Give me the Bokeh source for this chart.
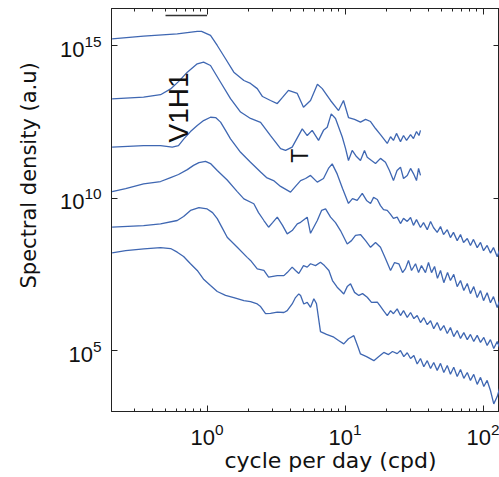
import numpy as np
from bokeh.plotting import figure
from bokeh.models import FixedTicker, LogAxis, Label, Range1d, Title
from bokeh.embed import file_html
from bokeh.resources import INLINE

# ---- data: log10(frequency, cpd) and log10(spectral density, a.u.) per spectrum ----
c1_logf = [-0.688,-0.46,-0.216,-0.071,-0.04,0.025,0.074,0.134,0.194,0.267,0.315,0.364,0.402,0.46,0.509,0.547,0.59,0.654,0.699,0.75,0.80,0.835,0.895,0.953,0.989,1.025,1.069,1.112,1.149,1.185,1.221,1.257,1.306,1.33,1.351,1.373,1.402,1.424,1.446,1.475,1.496,1.518,1.536,1.547]
c1_logs = [15.236,15.32,15.40,15.476,15.476,15.345,15.016,14.58,14.14,13.867,13.77,13.60,13.34,13.21,13.11,13.31,13.54,13.44,12.99,13.21,13.74,13.60,13.21,12.88,13.21,12.65,12.59,12.50,12.59,12.52,12.29,12.09,11.80,12.02,11.90,12.13,11.86,12.06,11.90,12.09,11.96,12.19,12.06,12.23]

c2_logf = [-0.688,-0.46,-0.337,-0.264,-0.207,-0.143,-0.071,-0.025,0.025,0.098,0.17,0.243,0.315,0.388,0.46,0.533,0.569,0.617,0.656,0.69,0.726,0.762,0.808,0.844,0.871,0.90,0.931,0.98,1.004,1.025,1.052,1.083,1.112,1.141,1.161,1.192,1.221,1.257,1.293,1.322,1.351,1.377,1.402,1.424,1.451,1.475,1.496,1.518,1.533,1.547]
c2_logs = [13.266,13.32,13.40,13.59,13.83,14.14,14.415,14.47,14.36,13.81,13.27,12.83,12.62,12.49,12.06,11.63,11.57,11.68,12.0,12.28,12.06,12.23,11.90,12.23,12.33,12.77,12.62,12.01,11.63,11.24,11.57,11.37,11.24,11.57,11.35,11.24,11.14,11.31,11.18,10.91,10.58,10.91,11.02,10.65,10.75,10.98,10.81,10.58,10.98,10.75]

c3_logf = [-0.688,-0.46,-0.337,-0.252,-0.207,-0.168,-0.12,-0.071,-0.025,0.025,0.062,0.098,0.134,0.17,0.243,0.315,0.388,0.431,0.482,0.533,0.605,0.641,0.678,0.714,0.75,0.799,0.844,0.88,0.907,0.943,0.982,1.025,1.054,1.088,1.125,1.156,1.185,1.207,1.234,1.257,1.279,1.306,1.33,1.351,1.378,1.402,1.424,1.451,1.475,1.496,1.518,1.547,1.569,1.596,1.62,1.641,1.668,1.692,1.714,1.741,1.764,1.786,1.813,1.837,1.859,1.886,1.909,1.931,1.958,1.982,2.004,2.03,2.054,2.076,2.103,2.12]
c3_logs = [11.677,11.73,11.73,11.68,11.73,11.95,12.19,12.39,12.55,12.66,12.65,12.50,12.23,11.95,11.51,11.18,10.86,10.68,10.58,10.39,10.20,10.39,10.58,10.65,10.75,10.53,10.65,10.98,11.13,10.80,10.32,9.83,9.99,9.93,10.16,9.93,9.83,10.03,9.96,9.76,9.63,9.60,9.47,9.34,9.38,9.17,9.34,9.24,9.37,9.11,9.30,9.04,9.20,8.97,9.24,9.04,8.88,9.07,8.81,8.97,8.71,8.88,8.61,8.81,8.55,8.68,8.45,8.65,8.38,8.55,8.28,8.45,8.20,8.38,8.08,8.30]

c4_logf = [-0.688,-0.59,-0.46,-0.337,-0.264,-0.207,-0.143,-0.098,-0.059,-0.011,0.025,0.074,0.146,0.219,0.267,0.339,0.373,0.412,0.446,0.475,0.509,0.547,0.581,0.617,0.654,0.678,0.726,0.75,0.799,0.83,0.859,0.895,0.931,0.967,1.016,1.047,1.076,1.112,1.149,1.185,1.221,1.257,1.293,1.33,1.359,1.39,1.417,1.438,1.46,1.482,1.511,1.533,1.554,1.583,1.605,1.627,1.649,1.67,1.692,1.716,1.743,1.764,1.788,1.813,1.837,1.861,1.886,1.909,1.933,1.958,1.982,2.004,2.03,2.054,2.076,2.103,2.12]
c4_logs = [10.22,10.32,10.47,10.55,10.68,10.78,10.94,11.08,11.17,11.21,11.14,10.91,10.60,10.22,9.98,9.82,9.53,9.27,9.05,9.20,9.38,9.11,8.83,8.94,9.16,9.21,9.38,8.85,9.27,9.60,9.65,9.38,9.20,8.94,8.50,8.61,8.78,8.81,8.61,8.39,8.55,8.39,8.02,7.63,7.89,7.85,7.56,7.69,7.96,7.63,7.85,7.56,7.79,7.56,7.89,7.56,7.76,7.37,7.63,7.23,7.56,7.30,7.50,7.10,7.30,6.97,7.20,6.87,7.10,6.74,6.97,6.64,6.90,6.57,6.77,6.41,6.64]

c5_logf = [-0.688,-0.46,-0.337,-0.216,-0.17,-0.12,-0.059,0.001,0.04,0.074,0.105,0.146,0.219,0.291,0.315,0.364,0.412,0.446,0.509,0.557,0.581,0.617,0.641,0.665,0.699,0.726,0.75,0.786,0.822,0.851,0.883,0.909,0.943,0.967,0.991,1.016,1.04,1.069,1.10,1.127,1.161,1.192,1.234,1.257,1.279,1.306,1.33,1.351,1.378,1.402,1.424,1.451,1.475,1.499,1.523,1.547,1.571,1.596,1.62,1.643,1.668,1.692,1.716,1.741,1.764,1.788,1.813,1.837,1.861,1.886,1.909,1.933,1.958,1.982,2.006,2.03,2.054,2.078,2.103,2.12]
c5_logs = [9.05,9.105,9.16,9.27,9.40,9.60,9.69,9.65,9.53,9.33,9.07,8.72,8.39,8.06,7.96,7.68,7.63,7.41,7.46,7.46,7.56,7.74,7.63,7.53,7.79,7.74,7.85,7.79,7.90,7.79,7.63,7.30,7.08,6.97,6.86,7.10,7.19,6.91,6.81,6.87,6.75,6.58,6.59,6.45,6.31,6.15,6.31,6.21,6.37,6.15,6.31,6.09,6.25,6.05,6.15,5.92,6.08,5.85,5.98,5.72,5.92,5.66,5.82,5.56,5.76,5.46,5.66,5.40,5.59,5.36,5.53,5.30,5.50,5.27,5.43,5.17,5.36,5.07,5.30,5.10]

c6_logf = [-0.688,-0.59,-0.458,-0.337,-0.264,-0.216,-0.17,-0.12,-0.071,-0.023,0.025,0.074,0.134,0.194,0.267,0.315,0.364,0.388,0.424,0.46,0.509,0.557,0.581,0.617,0.641,0.665,0.678,0.701,0.726,0.75,0.774,0.793,0.822,0.866,0.919,0.953,0.991,1.025,1.064,1.091,1.112,1.156,1.209,1.243,1.281,1.315,1.344,1.378,1.402,1.426,1.451,1.475,1.499,1.523,1.547,1.571,1.596,1.62,1.643,1.668,1.692,1.716,1.741,1.764,1.788,1.813,1.837,1.861,1.886,1.909,1.933,1.958,1.982,2.006,2.03,2.054,2.078,2.103,2.12]
c6_logs = [8.21,8.28,8.34,8.38,8.35,8.23,8.09,7.85,7.63,7.33,7.135,6.94,6.81,6.74,6.64,6.61,6.53,6.445,6.21,6.22,6.26,6.25,6.31,6.53,6.74,6.86,6.81,6.53,6.58,6.42,6.70,6.54,5.62,5.53,5.44,5.33,5.22,5.39,5.49,5.16,4.89,4.80,4.67,4.80,4.94,4.87,4.97,4.90,5.00,4.80,4.93,4.74,4.84,4.56,4.74,4.47,4.67,4.41,4.61,4.35,4.58,4.28,4.51,4.22,4.45,4.15,4.38,4.09,4.28,4.02,4.22,3.89,4.12,3.82,4.02,3.69,3.25,3.49,3.76]

# scale bar drawn at the top (cpd, a.u.)
bar_f = [0.5, 1.0]
bar_s = [1e16, 1e16]

# axis ticks
x_major = [1, 10, 100]
x_minor = [0.2, 0.3, 0.4, 0.5, 0.6, 0.7, 0.8, 0.9,
           2, 3, 4, 5, 6, 7, 8, 9,
           20, 30, 40, 50, 60, 70, 80, 90]
y_major = [1e5, 1e10, 1e15]

x_title = "cycle per day (cpd)"
y_title = "Spectral density (a.u)"
curve_tag = "V1H1"
marker_tag = "T"

LINE = "#3f67b2"
AX = "#222222"

p = figure(width=499, height=477, x_axis_type="log", y_axis_type="log",
           x_range=Range1d(0.203, 131.7), y_range=Range1d(1e3, 10 ** 16.23),
           output_backend="svg", toolbar_location=None,
           min_border_left=111, min_border_right=0, min_border_top=8,
           min_border_bottom=66)
p.background_fill_color = "white"
p.border_fill_color = "white"
p.outline_line_color = AX
p.outline_line_width = 1
p.grid.visible = False

curves = [(c1_logf, c1_logs), (c2_logf, c2_logs), (c3_logf, c3_logs),
          (c4_logf, c4_logs), (c5_logf, c5_logs), (c6_logf, c6_logs)]
for lf, ls in curves:
    n = min(len(lf), len(ls))
    f = 10 ** np.array(lf[:n])
    s = 10 ** np.array(ls[:n])
    p.line(f, s, line_color=LINE, line_width=1.3)

p.line(bar_f, bar_s, line_color="#333333", line_width=1.5)


def style_axis(ax, labels=True):
    ax.axis_line_color = AX
    ax.major_tick_line_color = AX
    ax.minor_tick_line_color = AX
    ax.major_tick_in = 6
    ax.major_tick_out = 0
    ax.minor_tick_in = 3
    ax.minor_tick_out = 0
    if labels:
        ax.major_label_text_font = "Liberation Sans"
        ax.major_label_text_font_size = "22px"
        ax.major_label_text_color = "#111111"
    else:
        ax.major_label_text_font_size = "2px"
        ax.major_label_text_alpha = 0.0
        ax.major_label_standoff = 0


xt = FixedTicker(ticks=x_major, minor_ticks=x_minor)
yt = FixedTicker(ticks=y_major, minor_ticks=[])

p.xaxis.ticker = xt
p.yaxis.ticker = yt
style_axis(p.xaxis[0])
style_axis(p.yaxis[0])
p.xaxis.major_label_standoff = 11
p.yaxis.major_label_standoff = 10

top = LogAxis(ticker=FixedTicker(ticks=x_major, minor_ticks=x_minor))
style_axis(top, labels=False)
p.add_layout(top, "above")
right = LogAxis(ticker=FixedTicker(ticks=y_major, minor_ticks=[]))
style_axis(right, labels=False)
p.add_layout(right, "right")

xt_title = Title(text=x_title, align="left", offset=113, standoff=0,
                 vertical_align="top",
                 text_font="DejaVu Sans", text_font_size="22px",
                 text_font_style="normal", text_color="#111111")
p.add_layout(xt_title, "below")
yt_title = Title(text=y_title, align="left", offset=123, standoff=30,
                 vertical_align="middle",
                 text_font="DejaVu Sans", text_font_size="21px",
                 text_font_style="normal", text_color="#111111")
p.add_layout(yt_title, "left")

p.add_layout(Label(x=0.621, y=10 ** 12.98, text=curve_tag, angle=np.pi / 2,
                   text_font="Liberation Sans", text_font_size="28px",
                   text_color="#111111", text_align="center",
                   text_baseline="middle"))
p.add_layout(Label(x=4.68, y=10 ** 11.40, text=marker_tag, angle=np.pi / 2,
                   text_font="Liberation Sans", text_font_size="23px",
                   text_color="#111111", text_align="center",
                   text_baseline="middle"))

open("out.html", "w").write(file_html(p, INLINE))
